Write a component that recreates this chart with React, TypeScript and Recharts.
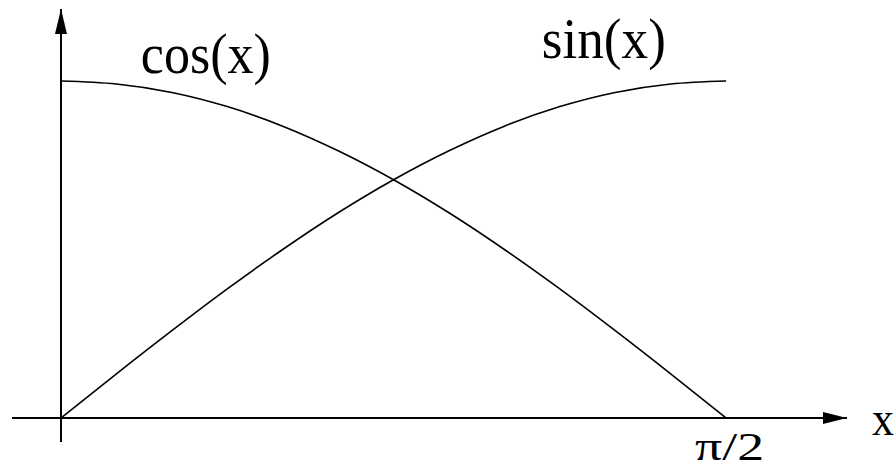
import { LineChart, Line, XAxis, YAxis, ReferenceLine, ReferenceDot } from 'recharts';

// sample points along x (radians)
const xValues = [0, 0.1309, 0.2618, 0.3927, 0.5236, 0.6545, 0.7854, 0.9163, 1.0472, 1.1781, 1.309, 1.4399, 1.5708];
const sinValues = [0, 0.131, 0.259, 0.383, 0.5, 0.609, 0.707, 0.793, 0.866, 0.924, 0.966, 0.991, 1];
const cosValues = [1, 0.991, 0.966, 0.924, 0.866, 0.793, 0.707, 0.609, 0.5, 0.383, 0.259, 0.131, 0];

const seriesLabels = ['cos(x)', 'sin(x)'];
const axisLabel = 'x';
const xTickValue = 1.5708;
const xTickLabel = 'π/2';

// axis extents (arrow tips) in data units
const X_MIN = -0.1157;
const X_MAX = 1.8563;
const Y_MIN = -0.0712;
const Y_MAX = 1.2136;

const data = xValues.map((x, i) => ({ x, sin: sinValues[i], cos: cosValues[i] }));

const FONT = '"Liberation Serif", "Times New Roman", serif';

function TextMark({ cx, cy, text, dx, dy, size, length }: any) {
  return (
    <text
      x={cx + dx}
      y={cy + dy}
      fontFamily={FONT}
      fontSize={size}
      fill="#000"
      textLength={length}
      lengthAdjust="spacingAndGlyphs"
    >
      {text}
    </text>
  );
}

function ArrowUp({ cx, cy }: any) {
  return <polygon points={`${cx},${cy} ${cx - 6},${cy + 25} ${cx + 6},${cy + 25}`} fill="#000" />;
}

function ArrowRight({ cx, cy }: any) {
  return <polygon points={`${cx},${cy} ${cx - 24},${cy - 6} ${cx - 24},${cy + 6}`} fill="#000" />;
}

export default function App() {
  return (
    <div style={{ position: 'absolute', left: 0, top: 0, width: 896, height: 468, background: '#fff' }}>
      <LineChart width={896} height={468} data={data} margin={{ top: 9, right: 49, bottom: 26, left: 12 }}>
        <XAxis type="number" dataKey="x" domain={[X_MIN, X_MAX]} allowDataOverflow hide />
        <YAxis type="number" domain={[Y_MIN, Y_MAX]} allowDataOverflow hide />
        <ReferenceLine x={0} stroke="#000" strokeWidth={2} />
        <ReferenceLine y={0} stroke="#000" strokeWidth={2} />
        <ReferenceDot x={0} y={Y_MAX} ifOverflow="visible" shape={(p: any) => <ArrowUp {...p} />} />
        <ReferenceDot x={X_MAX} y={0} ifOverflow="visible" shape={(p: any) => <ArrowRight {...p} />} />
        <Line type="monotone" dataKey="cos" stroke="#000" strokeWidth={1.6} dot={false} isAnimationActive={false} />
        <Line type="monotone" dataKey="sin" stroke="#000" strokeWidth={1.6} dot={false} isAnimationActive={false} />
        <ReferenceDot
          x={0.191}
          y={1.024}
          ifOverflow="visible"
          shape={(p: any) => <TextMark {...p} text={seriesLabels[0]} dx={-1} dy={0} size={58} length={130} />}
        />
        <ReferenceDot
          x={1.138}
          y={1.068}
          ifOverflow="visible"
          shape={(p: any) => <TextMark {...p} text={seriesLabels[1]} dx={-1} dy={0} size={56} length={124} />}
        />
        <ReferenceDot
          x={xTickValue}
          y={0}
          ifOverflow="visible"
          shape={(p: any) => <TextMark {...p} text={xTickLabel} dx={-31} dy={42} size={40} length={69} />}
        />
        <ReferenceDot
          x={X_MAX}
          y={0}
          ifOverflow="visible"
          shape={(p: any) => <TextMark {...p} text={axisLabel} dx={25} dy={17} size={48} length={22} />}
        />
      </LineChart>
    </div>
  );
}
